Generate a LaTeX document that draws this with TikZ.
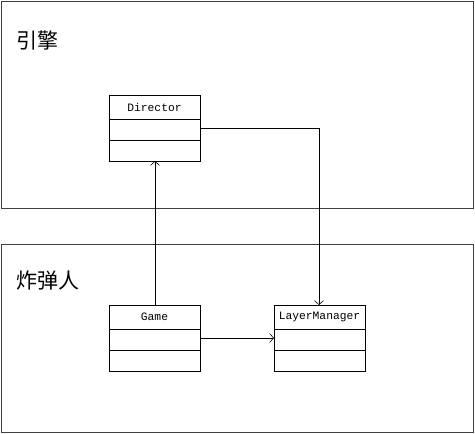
\documentclass[tikz,border=0pt]{standalone}
\usepackage{fontspec}
\newfontfamily\cjk{Noto Sans CJK SC}
\newfontfamily\mono{Liberation Mono}
\usetikzlibrary{arrows.meta}
\begin{document}
\begin{tikzpicture}[x=1pt,y=-1pt,
  frame/.style={draw=black!75,line width=0.9pt},
  cls/.style={draw,line width=0.8pt},
  conn/.style={line width=0.6pt,-{Straight Barb[length=4pt,width=9pt]}},
  lbl/.style={font=\cjk\fontsize{21}{21}\selectfont,anchor=west,inner sep=0pt},
  title/.style={font=\mono\fontsize{11.3}{11.3}\selectfont,inner sep=0pt}]
\useasboundingbox (0,0) rectangle (475,434);
% frames
\draw[frame] (1,1) rectangle (473,208);
\draw[frame] (1,244) rectangle (473,432);
\node[lbl] (engine) at (16,40) {引擎};
\node[lbl] (bomber) at (16,281) {炸弹人};
% classes
\foreach \n/\x/\y/\t in {dir/109/95/Director, game/109/305/Game, lm/274/305/LayerManager}{
  \draw[cls] (\x,\y) rectangle ++(91,66);
  \draw[cls] (\x,\y+24) -- ++(91,0);
  \draw[cls] (\x,\y+45) -- ++(91,0);
  \node[title] at (\x+45.5,\y+12) {\t};
  \coordinate (\n-nw) at (\x,\y);
}
\coordinate (dirR) at (200,128);
\coordinate (dirB) at (155,161);
\coordinate (gameT) at (155,305);
\coordinate (gameR) at (200,338);
\coordinate (lmL) at (274,338);
\coordinate (lmT) at (319,305);
\draw[conn] (gameT) -- (dirB);
\draw[conn] (dirR) -| (lmT);
\draw[conn] (gameR) -- (lmL);
\end{tikzpicture}
\end{document}
